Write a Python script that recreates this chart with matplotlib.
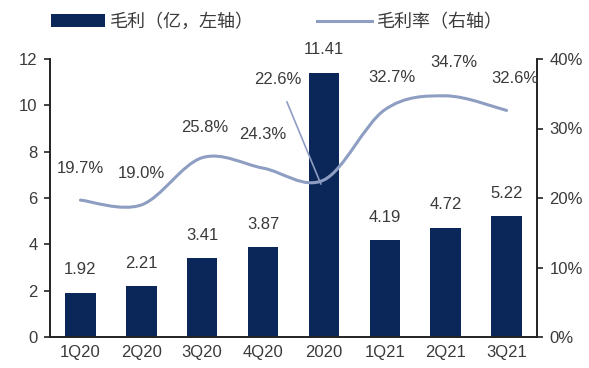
import numpy as np
import matplotlib.pyplot as plt
from matplotlib.path import Path
from matplotlib.patches import PathPatch, Patch
from matplotlib.lines import Line2D

plt.rcParams['font.family'] = ['Liberation Sans', 'Noto Sans CJK SC', 'DejaVu Sans']

# ── data ──────────────────────────────────────────────────────────────────────
categories = ['1Q20', '2Q20', '3Q20', '4Q20', '2020', '1Q21', '2Q21', '3Q21']
gross_profit = [1.92, 2.21, 3.41, 3.87, 11.41, 4.19, 4.72, 5.22]      # 亿
gross_margin = [19.7, 19.0, 25.8, 24.3, 22.6, 32.7, 34.7, 32.6]       # %

bar_color = '#0B2658'
line_color = '#8E9EC2'
text_color = '#3A3A3A'

fig = plt.figure(figsize=(5.89, 3.68), dpi=100)
ax = fig.add_axes([50 / 589, 31 / 368, 487 / 589, 278 / 368])
ax2 = ax.twinx()

x = np.arange(len(categories))
ax.bar(x, gross_profit, width=0.5, color=bar_color, zorder=2)
ax.set_xlim(-0.5, len(categories) - 0.5)
ax.set_ylim(0, 12)
ax.set_yticks(range(0, 13, 2))
ax.set_xticks(x)
ax.set_xticklabels(categories)

for xi, v in zip(x, gross_profit):
    ax.annotate(f'{v:.2f}', (xi, v), xytext=(0, 11), textcoords='offset points',
                ha='center', va='bottom', fontsize=12, color=text_color)

# smoothed margin line (Catmull-Rom -> cubic Bezier through the data points)
pts = np.column_stack([x, gross_margin]).astype(float)
verts = [pts[0]]
codes = [Path.MOVETO]
n = len(pts)
for i in range(n - 1):
    p0 = pts[i - 1] if i > 0 else pts[i]
    p1, p2 = pts[i], pts[i + 1]
    p3 = pts[i + 2] if i + 2 < n else pts[i + 1]
    verts += [p1 + (p2 - p0) / 6, p2 - (p3 - p1) / 6, p2]
    codes += [Path.CURVE4] * 3
ax2.add_patch(PathPatch(Path(verts, codes), facecolor='none', edgecolor=line_color,
                        lw=2.2, zorder=3, capstyle='round'))
ax2.set_ylim(0, 40)
ax2.set_yticks(range(0, 41, 10))
ax2.set_yticklabels([f'{t}%' for t in range(0, 41, 10)])

label_offsets = [(0, 23), (0, 23), (2, 22), (0, 24), (-31, 75), (5, 23), (6, 24), (6, 23)]
for xi, v, off in zip(x, gross_margin, label_offsets):
    if off[1] > 50:
        ax2.annotate(f'{v:.1f}%', (xi - 0.05, v - 0.6), xytext=off, textcoords='offset points',
                     ha='center', va='center', fontsize=12, color=text_color,
                     arrowprops=dict(arrowstyle='-', color=line_color, lw=1.2,
                                     shrinkA=9, shrinkB=0))
    else:
        ax2.annotate(f'{v:.1f}%', (xi, v), xytext=off, textcoords='offset points',
                     ha='center', va='center', fontsize=12, color=text_color)

for a in (ax, ax2):
    a.spines['top'].set_visible(False)
    for s in ('left', 'right', 'bottom'):
        a.spines[s].set_color('#222222')
        a.spines[s].set_linewidth(1.2)
    a.tick_params(axis='y', length=4, width=1.2, colors='#222222',
                  labelcolor=text_color, labelsize=12, pad=5)
ax.tick_params(axis='x', length=0, labelsize=12, labelcolor=text_color, pad=6)

handles = [Patch(facecolor=bar_color, edgecolor='none'),
           Line2D([0], [0], color=line_color, lw=2.2)]
fig.legend(handles, ['毛利（亿，左轴）', '毛利率（右轴）'], loc='center',
           bbox_to_anchor=(0.47, 0.94), ncol=2, frameon=False, fontsize=13,
           handlelength=3.0, handletextpad=0.3, columnspacing=3.5,
           labelcolor=text_color)

plt.savefig('out.png', dpi=100)
